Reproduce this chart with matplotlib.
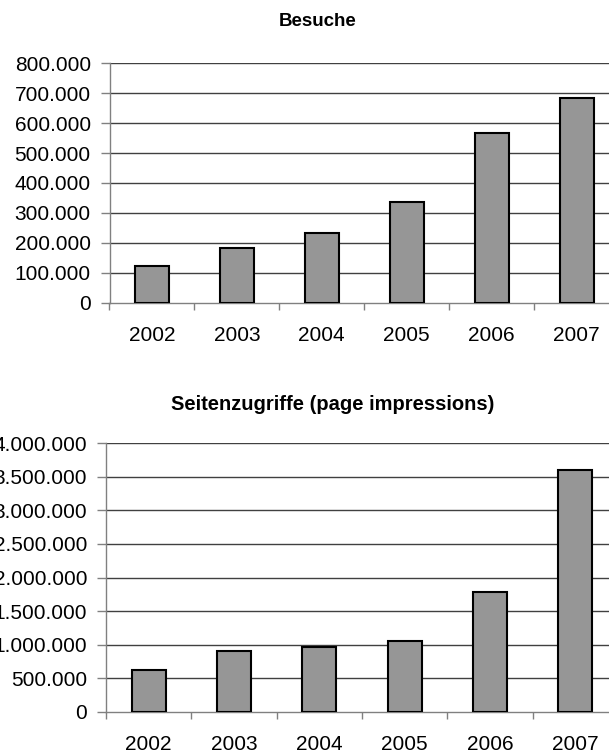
import matplotlib
matplotlib.use("Agg")
import matplotlib.pyplot as plt
from matplotlib.ticker import FuncFormatter, FixedLocator

plt.rcParams['font.family'] = ['Liberation Sans', 'DejaVu Sans']

years = ['2002', '2003', '2004', '2005', '2006', '2007']
besuche = [124000, 184000, 234000, 335000, 566000, 684000]
seitenzugriffe = [626000, 904000, 964000, 1058000, 1789000, 3598000]

title_top = 'Besuche'
title_bottom = 'Seitenzugriffe (page impressions)'

W, H = 609, 751
fig = plt.figure(figsize=(W / 100, H / 100), dpi=100)

def fmt(v, pos):
    return f"{int(round(v)):,}".replace(',', '.')

def draw(ax, values, ymax, step):
    x = list(range(len(years)))
    ax.bar(x, values, width=0.4, color='#969696', edgecolor='black', linewidth=1.5, zorder=3)
    ax.set_xlim(-0.5, len(years) - 0.5)
    ax.set_ylim(0, ymax)
    ticks = [i * step for i in range(int(ymax / step) + 1)]
    ax.set_yticks(ticks)
    ax.yaxis.set_major_formatter(FuncFormatter(fmt))
    ax.set_xticks(x)
    ax.set_xticklabels(years)
    ax.xaxis.set_minor_locator(FixedLocator([i - 0.5 for i in range(len(years) + 1)]))
    ax.tick_params(axis='x', which='major', length=0, pad=17, labelsize=15)
    ax.tick_params(axis='x', which='minor', length=5, width=1, color='#808080', direction='out')
    ax.tick_params(axis='y', length=6.5, width=1, color='#808080', pad=7, labelsize=15)
    for t in ticks[1:]:
        ax.axhline(t, color='#404040', linewidth=1.0, zorder=1)
    for s in ['top', 'right']:
        ax.spines[s].set_visible(False)
    for s in ['left', 'bottom']:
        ax.spines[s].set_color('#808080')
        ax.spines[s].set_linewidth(1.0)
    ax.set_facecolor('white')

ax1 = fig.add_axes([109.5 / W, 1 - 302.7 / H, (619 - 109.5) / W, (302.7 - 63.3) / H])
draw(ax1, besuche, 800000, 100000)
ax2 = fig.add_axes([106 / W, 1 - 711.7 / H, 512 / W, (711.7 - 443.3) / H])
draw(ax2, seitenzugriffe, 4000000, 500000)

fig.text(317.5 / W, 1 - 22 / H, title_top, ha='center', va='center', fontsize=13.5, fontweight='bold')
fig.text(333 / W, 1 - 405 / H, title_bottom, ha='center', va='center', fontsize=14.5, fontweight='bold')

fig.savefig('out.png', dpi=100, facecolor='white')
